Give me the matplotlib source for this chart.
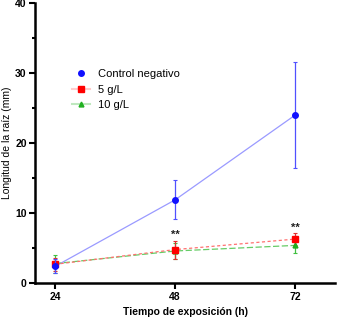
import matplotlib
matplotlib.use("Agg")
import matplotlib.pyplot as plt
from matplotlib.lines import Line2D

plt.rcParams['font.family'] = ['Liberation Sans', 'DejaVu Sans']

horas = [24, 48, 72]
control = [2.4, 11.9, 24.0]
control_err = [1.0, 2.8, 7.6]
g5 = [2.7, 4.8, 6.3]
g5_err = [0.9, 1.3, 0.9]
g10 = [2.8, 4.6, 5.4]
g10_err = [1.3, 1.2, 1.1]
estrellas = ['', '**', '**']

fig = plt.figure(figsize=(3.37, 3.20), dpi=100)
ax = fig.add_axes([0.104, 0.115, 0.89, 0.875])

ax.plot(horas, control, color='#9a9aff', lw=0.9, zorder=2)
ax.errorbar(horas, control, yerr=control_err, fmt='o', color='#1010ff', ms=4,
            ecolor='#5050ff', elinewidth=0.9, capsize=1.5, capthick=0.8, zorder=4)

ax.plot(horas, g10, color='#66cc66', lw=0.9, ls=(0, (5, 2)), zorder=2)
ax.errorbar(horas, g10, yerr=g10_err, fmt='^', color='#20b020', ms=3.5,
            ecolor='#40c040', elinewidth=0.9, capsize=1.5, capthick=0.8, zorder=3)

ax.plot(horas, g5, color='#ff7070', lw=0.9, ls=(0, (2.5, 2)), zorder=2)
ax.errorbar(horas, g5, yerr=g5_err, fmt='s', color='#ff0000', ms=4,
            ecolor='#e03030', elinewidth=0.9, capsize=1.5, capthick=0.8, zorder=3)

for x, y, e, s in zip(horas, g5, g5_err, estrellas):
    if s:
        ax.text(x, y + e + 0.05, s, ha='center', va='bottom', fontsize=8,
                fontweight='bold', color='#222222')

handles = [
    Line2D([], [], marker='o', color='#1010ff', ls='none', ms=4),
    Line2D([], [], marker='s', color='#ffcccc', ms=4, ls='-', lw=1.5,
           markerfacecolor='#ff0000', markeredgecolor='#ff0000'),
    Line2D([], [], marker='^', color='#bfe8bf', ms=3.5, ls='-', lw=1.5,
           markerfacecolor='#20b020', markeredgecolor='#20b020'),
]
ax.legend(handles, ['Control negativo', '5 g/L', '10 g/L'], loc='upper left',
          bbox_to_anchor=(0.09, 0.80), frameon=False, fontsize=8,
          handlelength=1.6, handletextpad=0.7, labelspacing=0.5)

ax.set_xlim(20, 80)
ax.set_ylim(0, 40)
ax.set_xticks(horas)
ax.set_yticks([0, 10, 20, 30, 40])
ax.set_yticks([5, 15, 25, 35], minor=True)
ax.spines['top'].set_visible(False)
ax.spines['right'].set_visible(False)
ax.spines['left'].set_linewidth(1.8)
ax.spines['bottom'].set_linewidth(1.8)
ax.tick_params(axis='both', which='major', width=1.5, length=4, labelsize=7.5, pad=2)
ax.tick_params(axis='y', which='minor', width=1.5, length=2.5)
for lab in ax.get_xticklabels() + ax.get_yticklabels():
    lab.set_fontweight('bold')

ax.set_xlabel('Tiempo de exposición (h)', fontsize=7.5, fontweight='bold', labelpad=4)
ax.set_ylabel('Longitud de la raíz (mm)', fontsize=7.5)
ax.yaxis.set_label_coords(-0.078, 0.5)

fig.savefig('out.png', dpi=100)
